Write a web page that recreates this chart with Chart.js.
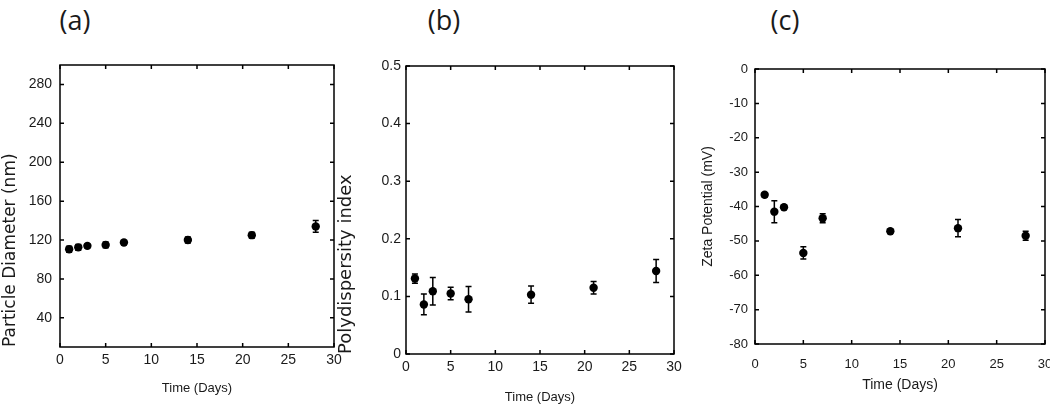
<!DOCTYPE html>
<html>
<head>
<meta charset="utf-8">
<script src="https://cdn.jsdelivr.net/npm/chart.js@4.4.0/dist/chart.umd.min.js"></script>
<style>
body { margin: 0; background: #fff; width: 1050px; height: 405px; position: relative; overflow: hidden; }
canvas { position: absolute; top: 0; }
.panel-label { position: absolute; font-family: 'Open Sans', sans-serif; font-size: 27px; color: #1a1a1a; transform: translate(-50%, -50%); line-height: 1; }
</style>
</head>
<body>
<div class="panel-label" style="left:75px;top:19px">(a)</div>
<div class="panel-label" style="left:444px;top:19px">(b)</div>
<div class="panel-label" style="left:785px;top:19px">(c)</div>
<canvas id="chartA" width="345" height="405" style="left:0"></canvas>
<canvas id="chartB" width="349" height="405" style="left:336px"></canvas>
<canvas id="chartC" width="353" height="405" style="left:697px"></canvas>
<script>
// Data
const days = [1, 2, 3, 5, 7, 14, 21, 28];
const diameter = [110.5, 112.5, 114, 115, 117.5, 120, 125, 134];
const diameterErr = [3, 3, 2, 3, 2, 3, 3, 6];
const pdi = [0.131, 0.086, 0.109, 0.105, 0.095, 0.103, 0.115, 0.144];
const pdiErr = [0.008, 0.018, 0.024, 0.011, 0.022, 0.015, 0.011, 0.02];
const zeta = [-36.6, -41.5, -40.2, -53.5, -43.4, -47.2, -46.3, -48.5];
const zetaErr = [0.6, 3.2, 0.6, 1.8, 1.3, 0.6, 2.5, 1.3];

// Tick labels
const xTicks = [0, 5, 10, 15, 20, 25, 30];
const diameterTicks = [40, 80, 120, 160, 200, 240, 280];
const pdiTicks = [0, 0.1, 0.2, 0.3, 0.4, 0.5];
const zetaTicks = [0, -10, -20, -30, -40, -50, -60, -70, -80];

Chart.defaults.font.family = "'Liberation Sans', Arial, sans-serif";
Chart.defaults.color = '#1a1a1a';

// Box frame, inward ticks on all sides, and error bars
const frameAndErrors = {
    id: 'frameAndErrors',
    afterDatasetsDraw(chart) {
        const { ctx, chartArea: a, scales: { x, y } } = chart;
        ctx.save();
        ctx.strokeStyle = '#000';
        ctx.lineWidth = 1.5;
        ctx.strokeRect(a.left, a.top, a.right - a.left, a.bottom - a.top);
        ctx.beginPath();
        x.ticks.forEach(t => {
            const px = x.getPixelForValue(t.value);
            ctx.moveTo(px, a.bottom); ctx.lineTo(px, a.bottom - 4);
            ctx.moveTo(px, a.top); ctx.lineTo(px, a.top + 4);
        });
        y.ticks.forEach(t => {
            const py = y.getPixelForValue(t.value);
            ctx.moveTo(a.left, py); ctx.lineTo(a.left + 4, py);
            ctx.moveTo(a.right, py); ctx.lineTo(a.right - 4, py);
        });
        ctx.stroke();

        ctx.beginPath();
        chart.data.datasets.forEach(ds => {
            ds.data.forEach((p, i) => {
                const e = ds.errors[i];
                const px = x.getPixelForValue(p.x);
                const top = y.getPixelForValue(p.y + e);
                const bot = y.getPixelForValue(p.y - e);
                ctx.moveTo(px, top); ctx.lineTo(px, bot);
                ctx.moveTo(px - 3, top); ctx.lineTo(px + 3, top);
                ctx.moveTo(px - 3, bot); ctx.lineTo(px + 3, bot);
            });
        });
        ctx.stroke();
        ctx.restore();
    }
};

function makeChart(id, o) {
    return new Chart(document.getElementById(id), {
        type: 'scatter',
        data: {
            datasets: [{
                data: days.map((d, i) => ({ x: d, y: o.values[i] })),
                errors: o.errors,
                pointRadius: 4.2,
                pointHoverRadius: 4.2,
                backgroundColor: '#000',
                borderColor: '#000',
                borderWidth: 0,
                showLine: false
            }]
        },
        options: {
            responsive: false,
            animation: false,
            events: [],
            layout: { padding: o.padding },
            plugins: { legend: { display: false }, tooltip: { enabled: false } },
            scales: {
                x: {
                    type: 'linear',
                    min: 0,
                    max: 30,
                    grid: { display: false, drawTicks: false },
                    border: { display: false },
                    afterBuildTicks: s => { s.ticks = xTicks.map(v => ({ value: v })); },
                    afterFit: s => { s.height = o.xHeight; s.paddingLeft = 0; s.paddingRight = 0; },
                    ticks: { font: { size: o.tickSize }, padding: o.xTickPad, maxRotation: 0, callback: v => v },
                    title: { display: true, text: 'Time (Days)', font: { size: o.xTitleSize }, padding: 0 }
                },
                y: {
                    type: 'linear',
                    min: o.yMin,
                    max: o.yMax,
                    grid: { display: false, drawTicks: false },
                    border: { display: false },
                    afterBuildTicks: s => { s.ticks = o.yTicks.map(v => ({ value: v })); },
                    afterFit: s => { s.width = o.yWidth; s.paddingTop = 0; s.paddingBottom = 0; },
                    ticks: { font: { size: o.tickSize }, padding: o.yTickPad, callback: v => v },
                    title: {
                        display: true,
                        text: o.yTitle,
                        align: o.yTitleAlign,
                        font: o.yTitleFont,
                        padding: { top: o.yTitlePad, bottom: 0 }
                    }
                }
            }
        },
        plugins: [frameAndErrors]
    });
}

document.addEventListener('DOMContentLoaded', function() {
    makeChart('chartA', {
        values: diameter, errors: diameterErr,
        yMin: 10, yMax: 300, yTicks: diameterTicks,
        yTitle: 'Particle Diameter (nm)', yTitleAlign: 'start',
        yTitleFont: { size: 17, family: "'DejaVu Sans', sans-serif" }, yTitlePad: 0,
        padding: { left: 0, right: 11, top: 65, bottom: 9 },
        yWidth: 60, xHeight: 49, tickSize: 14, xTickPad: 5, yTickPad: 8, xTitleSize: 13
    });
    makeChart('chartB', {
        values: pdi, errors: pdiErr,
        yMin: 0, yMax: 0.5, yTicks: pdiTicks,
        yTitle: 'Polydispersity index', yTitleAlign: 'start',
        yTitleFont: { size: 18, family: "'DejaVu Sans', sans-serif" }, yTitlePad: 0,
        padding: { left: 0, right: 11, top: 66, bottom: 0 },
        yWidth: 70, xHeight: 51, tickSize: 14, xTickPad: 5, yTickPad: 5, xTitleSize: 13
    });
    makeChart('chartC', {
        values: zeta, errors: zetaErr,
        yMin: -80, yMax: 0, yTicks: zetaTicks,
        yTitle: 'Zeta Potential (mV)', yTitleAlign: 'center',
        yTitleFont: { size: 14 }, yTitlePad: 3,
        padding: { left: 0, right: 5, top: 69, bottom: 11 },
        yWidth: 58, xHeight: 50, tickSize: 13, xTickPad: 13, yTickPad: 7, xTitleSize: 14
    });
});
</script>
</body>
</html>
